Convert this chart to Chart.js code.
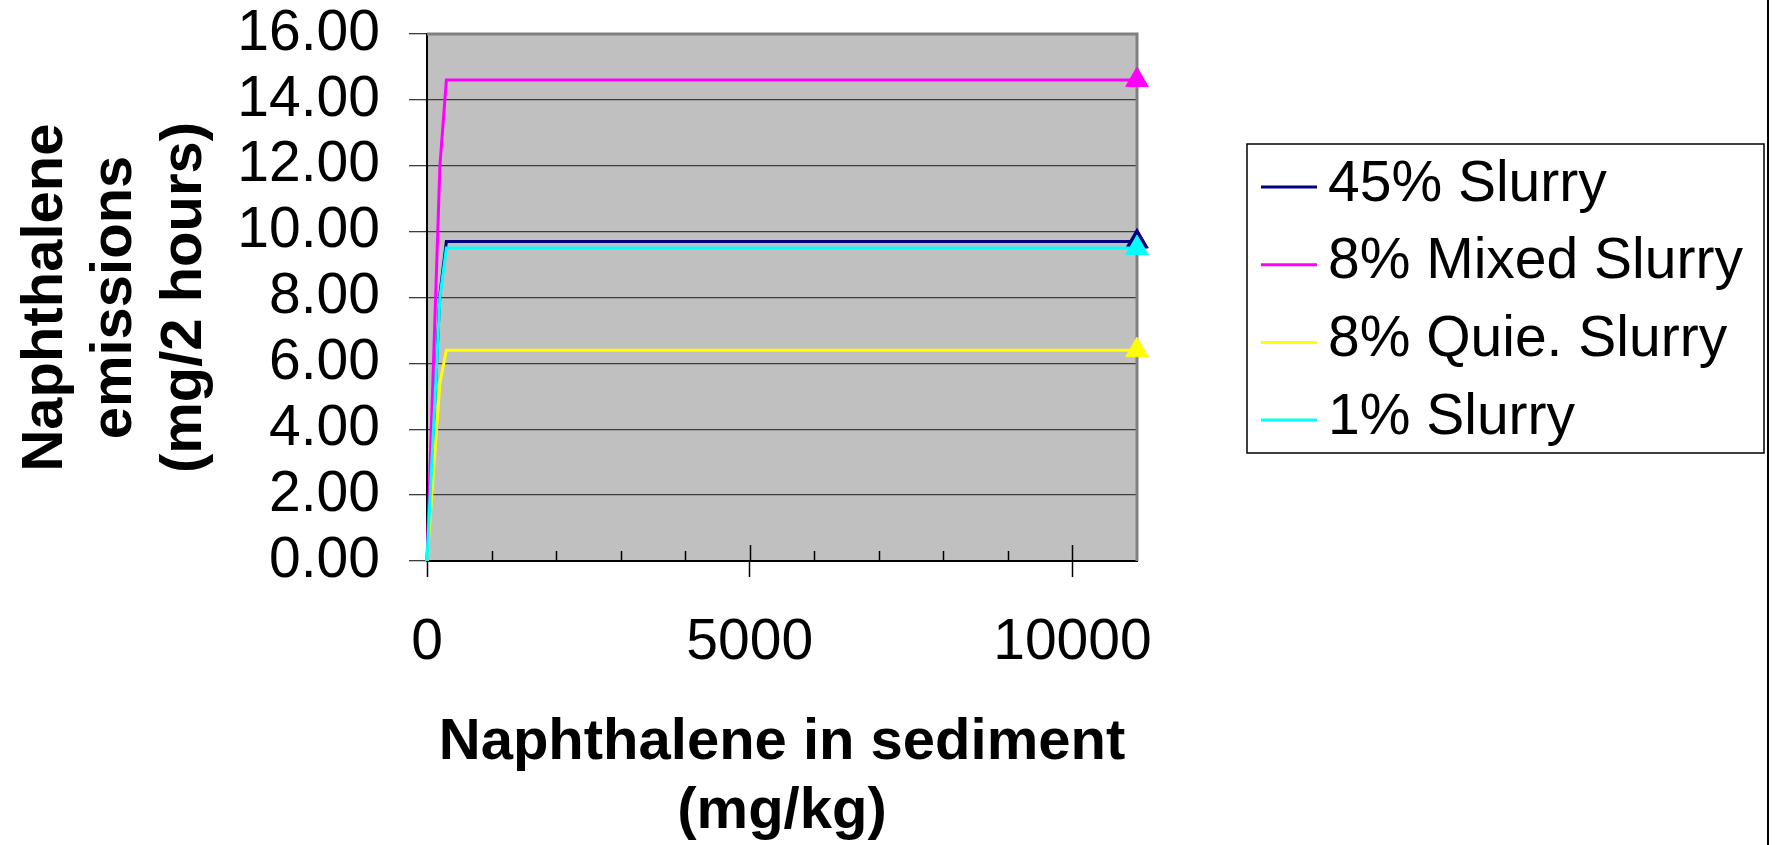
<!DOCTYPE html>
<html>
<head>
<meta charset="utf-8">
<script src="https://cdn.jsdelivr.net/npm/chart.js@4/dist/chart.umd.min.js"></script>
<style>
  html, body { margin: 0; padding: 0; background: #fff; }
</style>
</head>
<body>
<canvas id="myChart" width="1775" height="845"></canvas>
<script>
// naphthalene in sediment (mg/kg)
const sediment = [0, 200, 300, 11000];

const seriesNames = ['45% Slurry', '8% Mixed Slurry', '8% Quie. Slurry', '1% Slurry'];
const slurry45 = [0, 8.1, 9.7, 9.7];
const mixed8 = [0, 12.0, 14.6, 14.6];
const quiet8 = [0, 5.4, 6.4, 6.4];
const slurry1 = [0, 8.0, 9.5, 9.5];

const xLabelTicks = [0, 5000, 10000];

const seriesColors = ['#000080', '#ff00ff', '#ffff00', '#00ffff'];
const FONT = "'Liberation Sans', Arial, sans-serif";

Chart.defaults.font.family = FONT;
Chart.defaults.color = '#000';

const seriesValues = [slurry45, mixed8, quiet8, slurry1];

const datasets = seriesValues.map((vals, i) => ({
    label: seriesNames[i],
    data: vals.map((v, j) => ({x: sediment[j], y: v})),
    borderColor: seriesColors[i],
    backgroundColor: seriesColors[i],
    borderWidth: 3,
    fill: false,
    tension: 0,
    pointStyle: 'triangle',
    pointRadius: c => c.dataIndex === vals.length - 1 ? 13 : 0,
    pointHoverRadius: c => c.dataIndex === vals.length - 1 ? 13 : 0,
    pointBorderWidth: 1,
    order: seriesValues.length - i,   // later series on top, like the original
    clip: false
}));

// grey plot area, inner x ticks and the grey top/right frame
const plotBackground = {
    id: 'plotBackground',
    beforeDraw(chart) {
        const {ctx, chartArea: a} = chart;
        ctx.save();
        ctx.fillStyle = '#c0c0c0';
        ctx.fillRect(a.left, a.top, a.right - a.left, a.bottom - a.top);
        ctx.restore();
    },
    beforeDatasetsDraw(chart) {
        const {ctx, chartArea: a} = chart;
        const xs = chart.scales.x;
        ctx.save();
        ctx.strokeStyle = '#000';
        ctx.lineWidth = 1.5;
        xs.ticks.forEach(t => {
            if (t.value <= 0 || t.value >= xs.max) return;
            const px = Math.round(xs.getPixelForValue(t.value)) + 0.5;
            const len = xLabelTicks.includes(t.value) ? 16 : 10;
            ctx.beginPath();
            ctx.moveTo(px, a.bottom);
            ctx.lineTo(px, a.bottom - len);
            ctx.stroke();
        });
        ctx.strokeStyle = '#808080';
        ctx.lineWidth = 3;
        ctx.beginPath();
        ctx.moveTo(a.left, a.top);
        ctx.lineTo(a.right, a.top);
        ctx.lineTo(a.right, a.bottom);
        ctx.stroke();
        ctx.restore();
    }
};

// framed legend with short line samples
const frameLegend = {
    id: 'frameLegend',
    afterDraw(chart, args, o) {
        const {ctx} = chart;
        ctx.save();
        ctx.strokeStyle = '#000';
        ctx.lineWidth = 1.5;
        ctx.strokeRect(o.left, o.top, o.width, o.height);
        ctx.font = '57px ' + FONT;
        ctx.textBaseline = 'middle';
        ctx.textAlign = 'left';
        chart.data.datasets.forEach((ds, i) => {
            const y = o.firstY + i * o.rowGap;
            ctx.strokeStyle = ds.borderColor;
            ctx.lineWidth = 3;
            ctx.beginPath();
            ctx.moveTo(o.lineX, y);
            ctx.lineTo(o.lineX + o.lineLen, y);
            ctx.stroke();
            ctx.fillStyle = '#000';
            ctx.fillText(ds.label, o.textX, y - 2);
        });
        // outer edge line of the original picture
        ctx.strokeStyle = '#000';
        ctx.lineWidth = 2;
        ctx.beginPath();
        ctx.moveTo(o.edgeX, 0);
        ctx.lineTo(o.edgeX, chart.height);
        ctx.stroke();
        ctx.restore();
    }
};

const ctx = document.getElementById('myChart').getContext('2d');
const chart = new Chart(ctx, {
    type: 'line',
    data: {datasets: datasets},
    plugins: [plotBackground, frameLegend],
    options: {
        responsive: false,
        animation: false,
        layout: {padding: {top: 34, right: 638, bottom: 0, left: 0}},
        plugins: {
            legend: {display: false},
            tooltip: {enabled: false},
            frameLegend: {
                left: 1247, top: 144, width: 517, height: 309,
                firstY: 187, rowGap: 77.7,
                lineX: 1261, lineLen: 56, textX: 1328,
                edgeX: 1768
            }
        },
        scales: {
            x: {
                type: 'linear',
                min: 0,
                max: 11000,
                ticks: {
                    stepSize: 1000,
                    autoSkip: false,
                    maxRotation: 0,
                    padding: 38,
                    font: {size: 57, lineHeight: 1},
                    callback: v => xLabelTicks.includes(v) ? String(v) : ''
                },
                grid: {
                    drawOnChartArea: false,
                    tickLength: 16,
                    tickWidth: 1.5,
                    tickColor: c => (c.tick && xLabelTicks.includes(c.tick.value)) ? '#000' : 'rgba(0,0,0,0)'
                },
                border: {color: '#000', width: 2},
                title: {
                    display: true,
                    text: ['Naphthalene in sediment', '(mg/kg)'],
                    font: {size: 58, weight: 'bold', lineHeight: 1.2},
                    padding: {top: 0, bottom: -2}
                },
                afterFit: s => { s.height = 284; }
            },
            y: {
                min: 0,
                max: 16,
                ticks: {
                    stepSize: 2,
                    padding: 29,
                    font: {size: 57, lineHeight: 1},
                    callback: v => v.toFixed(2)
                },
                grid: {
                    color: '#3c3c3c',
                    lineWidth: 1.3,
                    tickLength: 18,
                    tickColor: '#3c3c3c'
                },
                border: {color: '#000', width: 2},
                title: {
                    display: true,
                    text: ['Naphthalene', 'emissions', '(mg/2 hours)'],
                    font: {size: 58, weight: 'bold', lineHeight: 1.2},
                    padding: {top: 11, bottom: 0}
                },
                afterFit: s => {
                    s.width = 427;
                    s.paddingTop = 0;
                    s.paddingBottom = 0;
                }
            }
        }
    }
});
</script>
</body>
</html>
